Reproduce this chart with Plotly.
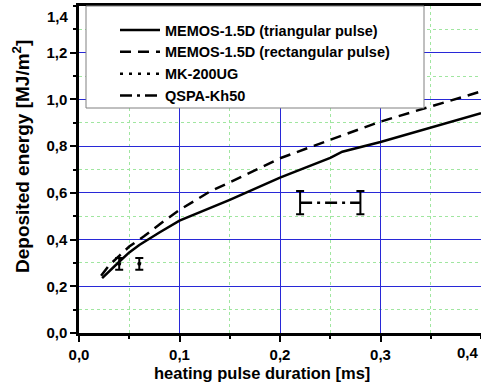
import plotly.graph_objects as go

# Data
tri_x = [0.023, 0.03, 0.04, 0.05, 0.06, 0.08, 0.10, 0.15, 0.20, 0.25, 0.262, 0.30, 0.35, 0.40]
tri_y = [0.235, 0.265, 0.305, 0.345, 0.377, 0.43, 0.481, 0.57, 0.665, 0.75, 0.776, 0.818, 0.88, 0.941]
rect_x = [0.022, 0.03, 0.04, 0.05, 0.065, 0.08, 0.10, 0.13, 0.15, 0.20, 0.25, 0.30, 0.35, 0.40]
rect_y = [0.245, 0.29, 0.33, 0.37, 0.415, 0.465, 0.527, 0.605, 0.645, 0.748, 0.827, 0.905, 0.97, 1.034]
mk_x = [0.04, 0.06]
mk_y = [0.296, 0.296]
mk_err = [0.025, 0.025]
qspa_x = [0.22, 0.28]
qspa_y = [0.558, 0.558]
qspa_err = [0.05, 0.05]

x_ticks = [0.0, 0.1, 0.2, 0.3]
x_ticktext = ["0,0", "0,1", "0,2", "0,3"]
x_last_tick = 0.4
x_last_label = "0,4"
y_ticks = [0.0, 0.2, 0.4, 0.6, 0.8, 1.0, 1.2]
y_ticktext = ["0,0", "0,2", "0,4", "0,6", "0,8", "1,0", "1,2"]
y_last_tick = 1.4
y_last_label = "1,4"
x_title = "heating pulse duration [ms]"
y_title = "Deposited energy [MJ/m<sup>2</sup>]"

FONT = "Liberation Sans, Arial, sans-serif"
BLUE = "rgb(40,40,215)"
GREEN = "rgb(160,230,160)"

fig = go.Figure()
# legend entries first (all the same kind, no error bars)
fig.add_trace(go.Scatter(x=tri_x, y=tri_y, mode="lines", name="MEMOS-1.5D (triangular pulse)",
                         line=dict(color="black", width=2.5, dash="solid")))
fig.add_trace(go.Scatter(x=rect_x, y=rect_y, mode="lines", name="MEMOS-1.5D (rectangular pulse)",
                         line=dict(color="black", width=2.5, dash="11px,7px")))
fig.add_trace(go.Scatter(x=[None], y=[None], mode="lines", name="MK-200UG",
                         line=dict(color="black", width=2.5, dash="3px,6px")))
fig.add_trace(go.Scatter(x=[None], y=[None], mode="lines", name="QSPA-Kh50",
                         line=dict(color="black", width=2.5, dash="12px,5px,3px,5px")))
# measured data with error bars
fig.add_trace(go.Scatter(x=mk_x, y=mk_y, mode="markers", showlegend=False,
                         marker=dict(color="black", size=4),
                         error_y=dict(type="data", array=mk_err, color="black", thickness=2, width=4)))
fig.add_trace(go.Scatter(x=qspa_x, y=qspa_y, mode="lines", showlegend=False,
                         line=dict(color="black", width=2.5, dash="12px,5px,3px,5px"),
                         error_y=dict(type="data", array=qspa_err, color="black", thickness=2, width=4)))

# legend box
fig.add_shape(type="rect", xref="paper", yref="paper",
              x0=(86 - 79) / 402, x1=(424 - 79) / 402, y0=(333 - 108) / 327, y1=1.0,
              fillcolor="white", line=dict(color="gray", width=1), layer="above")

# edge tick labels (kept inside the window)
fig.add_annotation(x=x_last_tick, y=0, xref="x", yref="y", text=x_last_label, showarrow=False,
                   xanchor="right", yanchor="top", yshift=-9,
                   font=dict(family=FONT, size=15, weight="bold"))
fig.add_annotation(x=0, y=y_last_tick, xref="x", yref="y", text=y_last_label, showarrow=False,
                   xanchor="right", yanchor="top", xshift=-8, yshift=0,
                   font=dict(family=FONT, size=15, weight="bold"))
# axis titles
fig.add_annotation(x=(262 - 79) / 402, y=-(373 - 333) / 327, xref="paper", yref="paper",
                   text=x_title, showarrow=False, xanchor="center", yanchor="middle",
                   font=dict(family=FONT, size=16.5, weight="bold"))
fig.add_annotation(x=-(79 - 21) / 402, y=(333 - 157) / 327, xref="paper", yref="paper",
                   text=y_title, showarrow=False, xanchor="center", yanchor="middle", textangle=-90,
                   font=dict(family=FONT, size=19, weight="bold"))

fig.update_layout(
    width=481, height=390,
    margin=dict(l=79, r=0, t=6, b=57),
    paper_bgcolor="white", plot_bgcolor="white",
    font=dict(family=FONT, size=14, color="black", weight="bold"),
    showlegend=True,
    legend=dict(x=(115 - 79) / 402, y=1 - (14 - 6) / 327, xanchor="left", yanchor="top",
                bgcolor="rgba(0,0,0,0)", borderwidth=0, traceorder="normal",
                font=dict(family=FONT, size=14.5, weight="bold"),
                tracegroupgap=0, itemwidth=40),
    xaxis=dict(range=[0, 0.4], tickvals=x_ticks, ticktext=x_ticktext,
               showline=True, linecolor="black", linewidth=2.5, mirror=True,
               ticks="outside", ticklen=6, tickwidth=2, tickcolor="black",
               showgrid=True, gridcolor=BLUE, gridwidth=1, zeroline=False,
               minor=dict(dtick=0.05, tick0=0, showgrid=True, gridcolor=GREEN, griddash="dot",
                          ticks="outside", ticklen=3, tickwidth=2, tickcolor="black"),
               automargin=False, tickfont=dict(size=15, weight="bold")),
    yaxis=dict(range=[0, 1.4], tickvals=y_ticks, ticktext=y_ticktext,
               showline=True, linecolor="black", linewidth=2.5, mirror=False,
               ticks="outside", ticklen=6, tickwidth=2, tickcolor="black",
               showgrid=True, gridcolor=BLUE, gridwidth=1, zeroline=False,
               minor=dict(dtick=0.1, tick0=0, showgrid=True, gridcolor=GREEN, griddash="dot",
                          ticks="outside", ticklen=3, tickwidth=2, tickcolor="black"),
               automargin=False, tickfont=dict(size=15, weight="bold")),
)

fig.write_html("out.html", config={"displayModeBar": False},
               post_script="document.body.style.margin='0px';")
